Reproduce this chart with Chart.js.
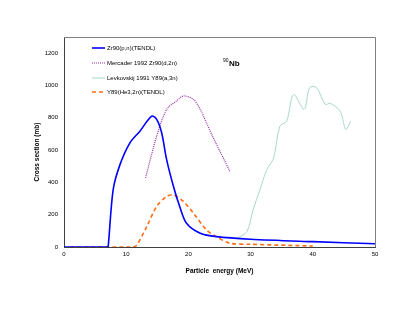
<!DOCTYPE html>
<html>
<head>
<meta charset="utf-8">
<script src="https://cdn.jsdelivr.net/npm/chart.js@4"></script>
<style>
  html, body { margin: 0; padding: 0; background: #fff; }
  #wrap { width: 415px; height: 321px; }
</style>
</head>
<body>
<div id="wrap"><canvas id="c" width="415" height="321"></canvas></div>
<script>
// Zr90(p,n)(TENDL)
const zrPnE = [0, 7, 7.1, 7.9, 9, 10.6, 12.2, 14.1, 14.9, 15.7, 16.5, 17.6, 18.6, 19.7, 21.9, 24.5, 30, 40, 50];
const zrPnY = [0, 0, 0, 354, 510, 645, 717, 810, 790, 707, 541, 375, 251, 147, 85, 64, 48, 33, 20];
// Mercader 1992 Zr90(d,2n)
const mercE = [13.1, 14.9, 16.5, 18.1, 19.2, 20.8, 21.9, 22.9, 24, 26.7];
const mercY = [427, 686, 852, 904, 935, 914, 852, 769, 676, 466];
// Levkovskij 1991 Y89(a,3n)
const levE = [27.5, 27.8, 29.4, 30.4, 31.5, 32.6, 33.7, 34.7, 35.8, 36.9, 38.6, 39.5, 40.6, 42, 42.8, 44.4, 45.3, 46.1];
const levY = [50, 54, 95, 230, 354, 479, 551, 748, 779, 945, 852, 987, 987, 883, 889, 841, 728, 779];
// Y89(He3,2n)(TENDL)
const yHeE = [1, 11, 11.7, 13.3, 14.9, 16.5, 17.6, 19.2, 20.8, 22.9, 24.5, 26.7, 30, 40];
const yHeY = [0, 0, 12, 126, 251, 313, 323, 282, 210, 106, 64, 23, 17, 6];

const FONT = "'Liberation Sans', Arial, sans-serif";
const pts = (xs, ys) => xs.map((x, i) => ({ x: x, y: ys[i] }));

const frame = {
  id: "frame",
  afterDraw(chart) {
    const ctx = chart.ctx, a = chart.chartArea;
    ctx.save();
    ctx.strokeStyle = "#808080";
    ctx.lineWidth = 1;
    ctx.beginPath();
    ctx.moveTo(a.left, a.top + 0.5);
    ctx.lineTo(a.right + 0.5, a.top + 0.5);
    ctx.lineTo(a.right + 0.5, a.bottom);
    ctx.stroke();

    // legend
    ctx.font = "6px " + FONT;
    ctx.textBaseline = "middle";
    const rows = [48, 63, 78, 92];
    chart.data.datasets.forEach((ds, i) => {
      const y = rows[i];
      ctx.strokeStyle = ds.borderColor;
      ctx.lineWidth = ds.borderWidth;
      ctx.setLineDash(ds.borderDash || []);
      ctx.beginPath();
      ctx.moveTo(92, y);
      ctx.lineTo(105, y);
      ctx.stroke();
      ctx.setLineDash([]);
      ctx.fillStyle = "#000";
      ctx.fillText(ds.label, 107, y);
    });

    // nuclide label
    ctx.fillStyle = "#000";
    ctx.font = "5px " + FONT;
    ctx.fillText("90", 223, 61);
    ctx.font = "bold 8px " + FONT;
    ctx.fillText("Nb", 229, 64);

    // axis titles
    ctx.font = "bold 6.5px " + FONT;
    ctx.textAlign = "center";
    ctx.fillText("Particle  energy (MeV)", (a.left + a.right) / 2, 271);
    ctx.translate(37, (a.top + a.bottom) / 2 + 10);
    ctx.rotate(-Math.PI / 2);
    ctx.fillText("Cross section (mb)", 0, 0);
    ctx.restore();
  }
};

new Chart(document.getElementById("c"), {
  type: "line",
  data: {
    datasets: [
      { label: "Zr90(p,n)(TENDL)", data: pts(zrPnE, zrPnY), borderColor: "#0000ff", borderWidth: 1.6, tension: 0.3 },
      { label: "Mercader 1992 Zr90(d,2n)", data: pts(mercE, mercY), borderColor: "#9933aa", borderWidth: 1.2, borderDash: [1, 1], tension: 0.3 },
      { label: "Levkovskij 1991 Y89(a,3n)", data: pts(levE, levY), borderColor: "#a8d8cc", borderWidth: 1, tension: 0.3 },
      { label: "Y89(He3,2n)(TENDL)", data: pts(yHeE, yHeY), borderColor: "#ff6a10", borderWidth: 1.6, borderDash: [4, 3], tension: 0.3 },
    ],
  },
  options: {
    responsive: false, animation: false,
    elements: { point: { radius: 0 } },
    layout: { padding: { top: 37, right: 40, left: 0, bottom: 0 } },
    plugins: { legend: { display: false }, tooltip: { enabled: false } },
    scales: {
      x: {
        type: "linear", min: 0, max: 50,
        grid: { display: false, drawTicks: true, tickLength: 3 },
        border: { color: "#404040" },
        ticks: { stepSize: 10, color: "#000", font: { family: FONT, size: 6 }, maxRotation: 0, padding: 1 },
        afterFit: (s) => { s.height = 74; },
      },
      y: {
        min: 0, max: 1300,
        grid: { display: false, drawTicks: true, tickLength: 3 },
        border: { color: "#404040" },
        ticks: { stepSize: 200, includeBounds: false, color: "#000", font: { family: FONT, size: 6 }, padding: 3,
                 callback: (v) => String(v) },
        afterFit: (s) => { s.width = 64; },
      },
    },
  },
  plugins: [frame],
});
</script>
</body>
</html>
